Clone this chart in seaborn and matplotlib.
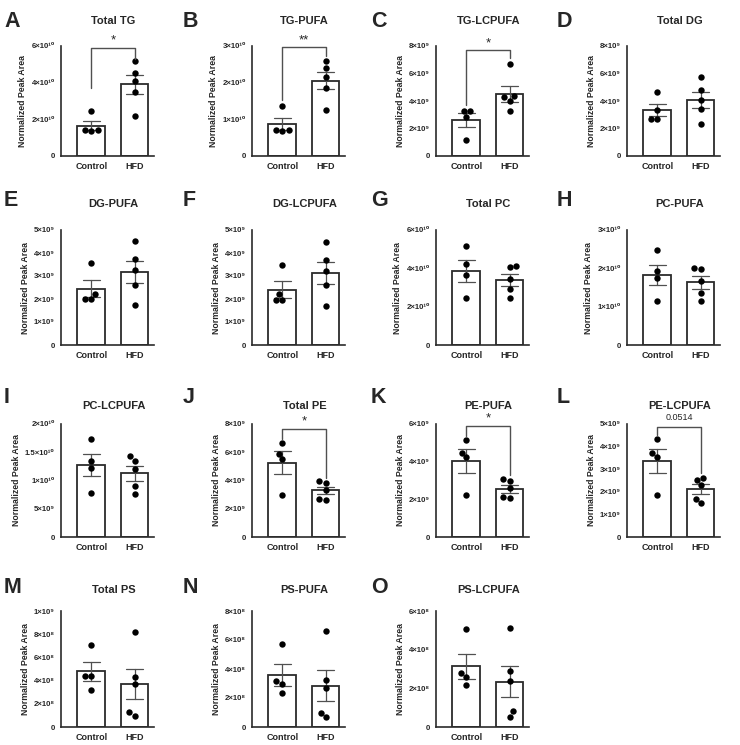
import numpy as np
import pandas as pd
import seaborn as sns
from matplotlib import pyplot as plt
from matplotlib.ticker import FuncFormatter

sns.set_style("white")
plt.rcParams['font.family'] = ['Liberation Sans', 'DejaVu Sans']

groups = ["Control", "HFD"]

# values (per panel scale given in the spec list below)
total_tg_control = [2.45, 1.38, 1.40, 1.42]
total_tg_hfd = [5.20, 4.55, 4.10, 3.50, 2.20]
tg_pufa_control = [1.36, 0.70, 0.69, 0.71]
tg_pufa_hfd = [2.60, 2.41, 2.15, 1.86, 1.25]
tg_lcpufa_control = [3.30, 3.28, 2.85, 1.16]
tg_lcpufa_hfd = [6.67, 4.35, 4.30, 4.00, 3.25]
total_dg_control = [4.68, 3.34, 2.67, 2.69]
total_dg_hfd = [5.76, 4.82, 4.06, 3.43, 2.33]
dg_pufa_control = [3.56, 2.22, 1.99, 2.00]
dg_pufa_hfd = [4.53, 3.75, 3.26, 2.63, 1.74]
dg_lcpufa_control = [3.49, 2.21, 1.96, 1.97]
dg_lcpufa_hfd = [4.49, 3.70, 3.20, 2.60, 1.70]
total_pc_control = [5.19, 4.24, 3.66, 2.44]
total_pc_hfd = [4.13, 4.07, 3.44, 2.94, 2.46]
pc_pufa_control = [2.47, 1.93, 1.76, 1.15]
pc_pufa_hfd = [2.02, 1.98, 1.66, 1.36, 1.14]
pc_lcpufa_control = [1.73, 1.35, 1.23, 0.77]
pc_lcpufa_hfd = [1.43, 1.35, 1.20, 0.90, 0.76]
total_pe_control = [6.69, 5.87, 5.49, 2.98]
total_pe_hfd = [3.94, 3.85, 3.33, 2.70, 2.65]
pe_pufa_control = [5.17, 4.48, 4.23, 2.21]
pe_pufa_hfd = [3.08, 2.98, 2.60, 2.10, 2.05]
pe_lcpufa_control = [4.33, 3.72, 3.54, 1.85]
pe_lcpufa_hfd = [2.59, 2.51, 2.28, 1.70, 1.50]
total_ps_control = [7.11, 4.42, 4.40, 3.21]
total_ps_hfd = [8.18, 4.31, 3.70, 1.27, 0.95]
ps_pufa_control = [5.75, 3.15, 2.99, 2.37]
ps_pufa_hfd = [6.64, 3.22, 2.67, 0.99, 0.69]
ps_lcpufa_control = [5.06, 2.79, 2.58, 2.15]
ps_lcpufa_hfd = [5.11, 2.91, 2.36, 0.83, 0.54]

letters = list("ABCDEFGHIJKLMNO")
titles = ["Total TG", "TG-PUFA", "TG-LCPUFA", "Total DG",
          "DG-PUFA", "DG-LCPUFA", "Total PC", "PC-PUFA",
          "PC-LCPUFA", "Total PE", "PE-PUFA", "PE-LCPUFA",
          "Total PS", "PS-PUFA", "PS-LCPUFA"]
# (control, hfd, scale, ymax, tick step)
panels = [
    (total_tg_control, total_tg_hfd, 1e10, 6e10, 2e10),
    (tg_pufa_control, tg_pufa_hfd, 1e10, 3e10, 1e10),
    (tg_lcpufa_control, tg_lcpufa_hfd, 1e9, 8e9, 2e9),
    (total_dg_control, total_dg_hfd, 1e9, 8e9, 2e9),
    (dg_pufa_control, dg_pufa_hfd, 1e9, 5e9, 1e9),
    (dg_lcpufa_control, dg_lcpufa_hfd, 1e9, 5e9, 1e9),
    (total_pc_control, total_pc_hfd, 1e10, 6e10, 2e10),
    (pc_pufa_control, pc_pufa_hfd, 1e10, 3e10, 1e10),
    (pc_lcpufa_control, pc_lcpufa_hfd, 1e10, 2e10, 5e9),
    (total_pe_control, total_pe_hfd, 1e9, 8e9, 2e9),
    (pe_pufa_control, pe_pufa_hfd, 1e9, 6e9, 2e9),
    (pe_lcpufa_control, pe_lcpufa_hfd, 1e9, 5e9, 1e9),
    (total_ps_control, total_ps_hfd, 1e8, 1e9, 2e8),
    (ps_pufa_control, ps_pufa_hfd, 1e8, 8e8, 2e8),
    (ps_lcpufa_control, ps_lcpufa_hfd, 1e8, 6e8, 2e8),
]
# significance brackets: panel index -> (top, left leg end, right leg end, label) in panel scale
brackets = {
    0: (5.9, 3.7, 5.3, "*"),
    1: (2.97, 1.52, 2.74, "**"),
    2: (7.7, 3.73, 7.15, "*"),
    9: (7.65, 6.95, 4.2, "*"),
    10: (5.9, 5.35, 3.3, "*"),
    11: (4.88, 4.5, 2.85, "0.0514"),
}

SUP = str.maketrans("0123456789", "⁰¹²³⁴⁵⁶⁷⁸⁹")


def sci(v, pos=None):
    if v == 0:
        return "0"
    e = int(np.floor(np.log10(v) + 1e-9))
    m = v / 10 ** e
    return "%g×10%s" % (round(m, 2), str(e).translate(SUP))


W, H = 740, 745
fig = plt.figure(figsize=(W / 100, H / 100), dpi=100)

col_left = [61, 252, 436, 627]
col_letter = [4, 183, 371, 557]
row_top = [46, 230, 424, 611]
row_bot = [156, 345, 537, 727]
row_title = [24, 207, 409, 593]
row_letter = [27, 206, 403, 593]
ax_w = 93
ink = "#2b2b2b"

for i, (ctrl, hfd, scale, ymax, step) in enumerate(panels):
    r, c = divmod(i, 4)
    l, t, b = col_left[c], row_top[r], row_bot[r]
    ax = fig.add_axes([l / W, 1 - b / H, ax_w / W, (b - t) / H])
    df = pd.DataFrame({
        "group": ["Control"] * len(ctrl) + ["HFD"] * len(hfd),
        "value": np.array(ctrl + hfd) * scale,
    })
    sns.barplot(data=df, x="group", y="value", order=groups, ax=ax,
                color="white", saturation=1, edgecolor=ink, linewidth=1.3,
                width=0.64, errorbar="se", capsize=0.4,
                err_kws={"color": "#505050", "linewidth": 0.9})
    sns.swarmplot(data=df, x="group", y="value", order=groups, ax=ax,
                  color="black", size=4.6, zorder=5)
    ax.set_xlim(-0.7, 1.45)
    ax.set_ylim(0, ymax)
    ax.set_yticks(np.arange(0, ymax + step / 2, step))
    ax.yaxis.set_major_formatter(FuncFormatter(sci))
    ax.set_xlabel("")
    ax.set_ylabel("Normalized Peak Area", fontsize=6.3, fontweight="bold", labelpad=3)
    ax.tick_params(axis="y", length=3, width=1, color=ink, labelsize=5.6, pad=1.5)
    ax.tick_params(axis="x", length=0, labelsize=6.5, pad=4)
    for lab in ax.get_xticklabels() + ax.get_yticklabels():
        lab.set_fontweight("bold")
    sns.despine(ax=ax)
    for s in ("left", "bottom"):
        ax.spines[s].set_linewidth(1.2)
        ax.spines[s].set_color(ink)

    if i in brackets:
        top, lft, rgt, lab = brackets[i]
        ax.plot([0, 0, 1, 1], [lft * scale, top * scale, top * scale, rgt * scale],
                color="#505050", lw=1, clip_on=False, zorder=6)
        if lab.startswith("*"):
            ax.text(0.5, top * scale + ymax * 0.01, lab, ha="center", va="bottom",
                    fontsize=9.5, clip_on=False)
        else:
            ax.text(0.5, top * scale + ymax * 0.04, lab, ha="center", va="bottom",
                    fontsize=6.5, clip_on=False)

    fig.text((l + ax_w / 2 + 6) / W, 1 - row_title[r] / H, titles[i],
             ha="center", va="baseline", fontsize=8, fontweight="bold")
    fig.text(col_letter[c] / W, 1 - row_letter[r] / H, letters[i],
             ha="left", va="baseline", fontsize=15.5, fontweight="bold")

fig.savefig("out.png", dpi=100)
